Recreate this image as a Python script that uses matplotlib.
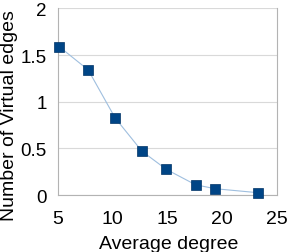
import matplotlib.pyplot as plt

deg = [5.12, 7.77, 10.23, 12.67, 14.9, 17.57, 19.36, 23.3]
virt = [1.59, 1.34, 0.825, 0.47, 0.275, 0.11, 0.068, 0.025]

plt.rcParams['font.family'] = ['Liberation Sans', 'DejaVu Sans']

fig = plt.figure(figsize=(2.88, 2.53), dpi=100)
ax = fig.add_axes([0.201, 0.225, 0.761, 0.738])
ax.plot(deg, virt, color='#9fbfdf', lw=0.8, zorder=2)
ax.plot(deg, virt, ls='none', marker='s', ms=6.6, color='#004586',
        mec='#003366', mew=0.5, zorder=3, clip_on=False)
ax.set_xlim(5, 25)
ax.set_ylim(0, 2)
ax.set_xticks([5, 10, 15, 20, 25])
ax.set_yticks([0, 0.5, 1, 1.5, 2])
ax.set_yticklabels(['0', '0.5', '1', '1.5', '2'])
ax.grid(axis='y', color='#d9d9d9', lw=0.8)
ax.set_axisbelow(True)
for s in ax.spines.values():
    s.set_color('#b3b3b3')
    s.set_linewidth(0.8)
ax.spines['top'].set_visible(False)
ax.tick_params(axis='x', length=0, pad=11, labelsize=14)
ax.tick_params(axis='y', length=0, pad=8, labelsize=13.5)
ax.set_xlabel('Average degree', fontsize=14, va='baseline')
ax.xaxis.set_label_coords(0.507, -0.282)
ax.set_ylabel('Number of Virtual edges', fontsize=14)
ax.yaxis.set_label_coords(-0.18, 0.43)
fig.savefig('out.png', dpi=100)
